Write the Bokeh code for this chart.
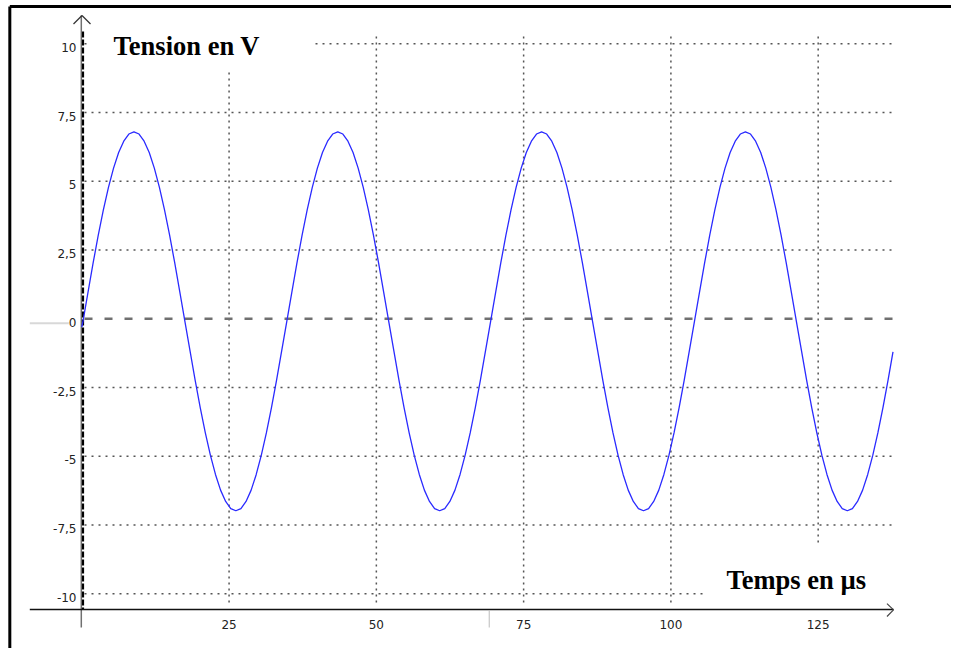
from bokeh.plotting import figure
from bokeh.models import Range1d
from bokeh.core.properties import value
from bokeh.embed import file_html
from bokeh.resources import INLINE

# ---- data ----
time_us = [0,
           0.2, 1.065, 1.93, 2.795, 3.66, 4.525, 5.39, 6.255, 7.12, 7.985,
           8.85, 9.715, 10.58, 11.445, 12.31, 13.175, 14.04, 14.905, 15.77, 16.635,
           17.5, 18.365, 19.23, 20.095, 20.96, 21.825, 22.69, 23.555, 24.42, 25.285,
           26.15, 27.015, 27.88, 28.745, 29.61, 30.475, 31.34, 32.205, 33.07, 33.935,
           34.8, 35.665, 36.53, 37.395, 38.26, 39.125, 39.99, 40.855, 41.72, 42.585,
           43.45, 44.315, 45.18, 46.045, 46.91, 47.775, 48.64, 49.505, 50.37, 51.235,
           52.1, 52.965, 53.83, 54.695, 55.56, 56.425, 57.29, 58.155, 59.02, 59.885,
           60.75, 61.615, 62.48, 63.345, 64.21, 65.075, 65.94, 66.805, 67.67, 68.535,
           69.4, 70.265, 71.13, 71.995, 72.86, 73.725, 74.59, 75.455, 76.32, 77.185,
           78.05, 78.915, 79.78, 80.645, 81.51, 82.375, 83.24, 84.105, 84.97, 85.835,
           86.7, 87.565, 88.43, 89.295, 90.16, 91.025, 91.89, 92.755, 93.62, 94.485,
           95.35, 96.215, 97.08, 97.945, 98.81, 99.675, 100.54, 101.405, 102.27, 103.135,
           104.0, 104.865, 105.73, 106.595, 107.46, 108.325, 109.19, 110.055, 110.92, 111.785,
           112.65, 113.515, 114.38, 115.245, 116.11, 116.975, 117.84, 118.705, 119.57, 120.435,
           121.3, 122.165, 123.03, 123.895, 124.76, 125.625, 126.49, 127.355, 128.22, 129.085,
           129.95, 130.815, 131.68, 132.545, 133.41, 134.275, 135.14, 136.005, 136.87, 137.7]
tension_v = [-0.3,
             -0.09, 0.98, 2.04, 3.04, 3.96, 4.78, 5.48, 6.05, 6.46, 6.72,
             6.80, 6.72, 6.46, 6.05, 5.48, 4.78, 3.96, 3.04, 2.04, 0.98,
             -0.09, -1.16, -2.22, -3.22, -4.14, -4.96, -5.66, -6.23, -6.64, -6.90,
             -6.98, -6.90, -6.64, -6.23, -5.66, -4.96, -4.14, -3.22, -2.22, -1.16,
             -0.09, 0.98, 2.04, 3.04, 3.96, 4.78, 5.48, 6.05, 6.46, 6.72,
             6.80, 6.72, 6.46, 6.05, 5.48, 4.78, 3.96, 3.04, 2.04, 0.98,
             -0.09, -1.16, -2.22, -3.22, -4.14, -4.96, -5.66, -6.23, -6.64, -6.90,
             -6.98, -6.90, -6.64, -6.23, -5.66, -4.96, -4.14, -3.22, -2.22, -1.16,
             -0.09, 0.98, 2.04, 3.04, 3.96, 4.78, 5.48, 6.05, 6.46, 6.72,
             6.80, 6.72, 6.46, 6.05, 5.48, 4.78, 3.96, 3.04, 2.04, 0.98,
             -0.09, -1.16, -2.22, -3.22, -4.14, -4.96, -5.66, -6.23, -6.64, -6.90,
             -6.98, -6.90, -6.64, -6.23, -5.66, -4.96, -4.14, -3.22, -2.22, -1.16,
             -0.09, 0.98, 2.04, 3.04, 3.96, 4.78, 5.48, 6.05, 6.46, 6.72,
             6.80, 6.72, 6.46, 6.05, 5.48, 4.78, 3.96, 3.04, 2.04, 0.98,
             -0.09, -1.16, -2.22, -3.22, -4.14, -4.96, -5.66, -6.23, -6.64, -6.90,
             -6.98, -6.90, -6.64, -6.23, -5.66, -4.96, -4.14, -3.22, -2.22, -1.2]

x_ticks = [25, 50, 75, 100, 125]
x_tick_labels = ["25", "50", "75", "100", "125"]
y_ticks = [10, 7.5, 5, 2.5, 0, -2.5, -5, -7.5, -10]
y_tick_labels = ["10", "7,5", "5", "2,5", "0", "-2,5", "-5", "-7,5", "-10"]
y_title = "Tension en V"
x_title = "Temps en µs"

# ---- figure ----
W, H = 951, 648
X_LO, X_HI = -13.801, (W - 81.3) / 5.891
Y_HI, Y_LO = 11.575, (318.3 - H) / 27.5
p = figure(width=W, height=H, x_range=Range1d(X_LO, X_HI), y_range=Range1d(Y_LO, Y_HI),
           output_backend="svg", toolbar_location=None, min_border=0,
           x_axis_location=None, y_axis_location=None)
p.grid.visible = False
p.outline_line_color = None
p.background_fill_color = "white"
p.border_fill_color = "white"

# page frame (top and left)
p.segment(x0=[-12.22, -12.22], y0=[11.356, 11.356], x1=[X_HI, -12.22], y1=[11.356, Y_LO],
          line_color="black", line_width=3)

# dotted grid
gx0, gx1 = 0.46, 137.8
hy = [v for v in y_ticks if v != 0]
p.segment(x0=[gx0] * len(hy), y0=hy, x1=[gx1] * len(hy), y1=hy,
          line_color="#555555", line_width=1.5, line_dash="2 5")
p.segment(x0=x_ticks, y0=[10.265] * len(x_ticks), x1=x_ticks, y1=[-10.353] * len(x_ticks),
          line_color="#555555", line_width=1.5, line_dash="2 4")

# zero line
p.segment(x0=[0.46], y0=[0], x1=[137.79], y1=[0], line_color="#707070", line_width=2.5,
          line_dash="8 12")

# white boxes behind the titles
p.quad(left=[1.477, 105.5], right=[39.5, 138.97], top=[10.484, -8.244], bottom=[8.993, -10.353],
       fill_color="white", line_color=None)

# y axis (gray line + black dashes + arrow)
p.segment(x0=[-0.085], y0=[11.029], x1=[-0.085], y1=[-11.225], line_color="#707070", line_width=1.5)
p.segment(x0=[0.204], y0=[10.447], x1=[0.204], y1=[-10.571], line_color="black", line_width=2.2,
          line_dash="6 2")
p.segment(x0=[-1.409, 1.477], y0=[10.72, 10.72], x1=[0.034, 0.034], y1=[11.029, 11.029],
          line_color="#333333", line_width=1.2)

# x axis + arrow
p.segment(x0=[-8.827], y0=[-10.571], x1=[137.79], y1=[-10.571], line_color="#111111", line_width=1.5)
p.segment(x0=[136.68, 136.68], y0=[-10.356, -10.825], x1=[137.79, 137.79], y1=[-10.585, -10.585],
          line_color="#444444", line_width=1.2)

# small light marks
p.segment(x0=[-8.827], y0=[-0.16], x1=[-2.207], y1=[-0.16], line_color="#d8d8d8", line_width=2)
p.segment(x0=[69.16], y0=[-10.607], x1=[69.16], y1=[-11.225], line_color="#bbbbbb", line_width=1)

# curve
p.line(time_us, tension_v, line_color="#2a2aff", line_width=1.3)

# tick labels
p.text(x=[-0.9] * len(y_ticks), y=[v - 0.13 for v in y_ticks], text=y_tick_labels,
       text_font=value("DejaVu Sans"), text_font_size="12px", text_color="#222222",
       text_align="right", text_baseline="alphabetic")
p.text(x=x_ticks, y=[-11.13] * len(x_ticks), text=x_tick_labels,
       text_font=value("DejaVu Sans"), text_font_size="12px", text_color="#222222",
       text_align="center", text_baseline="alphabetic")

# axis titles
p.text(x=[5.40], y=[9.913], text=[y_title], text_font=value("Liberation Serif"),
       text_font_size="26.5px", text_font_style="bold", text_color="black",
       text_align="left", text_baseline="alphabetic")
p.text(x=[109.44], y=[-9.498], text=[x_title], text_font=value("Liberation Serif"),
       text_font_size="26.5px", text_font_style="bold", text_color="black",
       text_align="left", text_baseline="alphabetic")

open("out.html", "w").write(file_html(p, INLINE))
